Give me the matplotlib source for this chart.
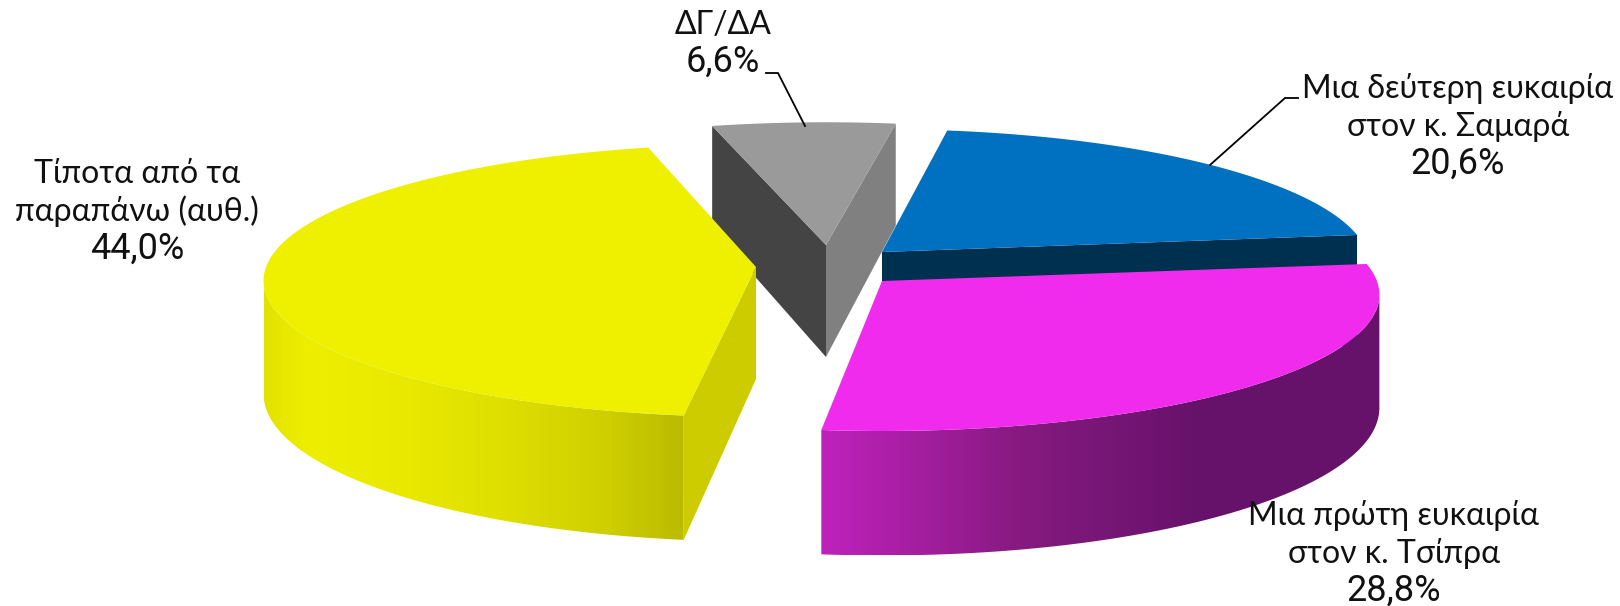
import numpy as np
import matplotlib
matplotlib.use("Agg")
import matplotlib.pyplot as plt
from matplotlib.colors import LinearSegmentedColormap
from matplotlib.patches import Polygon

# data
categories = ["Μια δεύτερη ευκαιρία\nστον κ. Σαμαρά", "Μια πρώτη ευκαιρία\nστον κ. Τσίπρα",
              "Τίποτα από τα\nπαραπάνω (αυθ.)", "ΔΓ/ΔΑ"]
shares = [20.6, 28.8, 44.0, 6.6]

# styles
top_colors = ["#0070C0", "#F02BEE", "#EFEF00", "#9A9A9A"]
start_wall = [None, None, "#CCCC00", "#444444"]
end_wall = ["#003050", None, None, "#808080"]
wall_stops = [None,
              [(0, "#BF22BC"), (0.36, "#861A80"), (0.68, "#66126A"), (1, "#66126A")],
              [(0, "#E2E200"), (0.1, "#EEEE00"), (0.3, "#EAEA00"), (0.55, "#E0E000"),
               (0.8, "#D0D000"), (1, "#BBBB00")],
              None]
centers = [(882, 252), (882, 281), (756, 267), (826, 245)]
angle_nudge = [0, 0, 1.3, 0.5]  # exploded slices sit a bit turned in the perspective
radius_scale = [0.99, 1.01, 1, 1]
label_x = [1458, 1394, 137, 723]
label_y = [98, 525, 183, 34]  # baseline of first line
line_step = 38

start_angle = 8.5
RX, RY, K, DEPTH = 490.0, 135.0, 0.1, 112.0


def project(center, theta, scale=1):
    # point on the rim, simple perspective: closer to viewer means bigger
    t = np.radians(theta)
    u, v = np.sin(t), -np.cos(t)
    s = 1 / (1 - K * v)
    return center[0] + RX * scale * u * s, center[1] + RY * v * s, DEPTH * s


def edge_wall(center, a, scale):
    # wall standing on the straight edge from apex to rim
    x, y, d = project(center, a, scale)
    return [(center[0], center[1]), (x, y), (x, y + d), (center[0], center[1] + DEPTH)]


def draw_slice(ax, center, a, b, i, z):
    thetas = np.linspace(a, b, 200)
    x, y, d = project(center, thetas, radius_scale[i])

    # outer wall, only the part turned to the viewer (widest point is at cos = -K)
    front = np.cos(np.radians(thetas)) < -K
    if wall_stops[i] is not None and front.sum() > 1:
        fx, fy, fd = x[front], y[front], d[front]
        pts = np.vstack([np.c_[fx, fy], np.c_[fx, fy + fd][::-1]])
        cmap = LinearSegmentedColormap.from_list("wall", wall_stops[i], N=256)
        im = ax.imshow(np.linspace(0, 1, 256).reshape(1, -1), cmap=cmap, aspect="auto",
                       extent=[fx.min(), fx.max(), pts[:, 1].max(), pts[:, 1].min()], zorder=z)
        poly = Polygon(pts, closed=True, transform=ax.transData, fc="none", ec="none")
        ax.add_patch(poly)
        im.set_clip_path(poly)

    if start_wall[i]:
        ax.add_patch(Polygon(edge_wall(center, a, radius_scale[i]), fc=start_wall[i], ec="none", zorder=z))
    if end_wall[i]:
        ax.add_patch(Polygon(edge_wall(center, b, radius_scale[i]), fc=end_wall[i], ec="none", zorder=z))

    top = np.vstack([[center], np.c_[x, y]])
    ax.add_patch(Polygon(top, fc=top_colors[i], ec="none", zorder=z + 0.5))


fig = plt.figure(figsize=(16.2, 6.06), dpi=100)
ax = fig.add_axes([0, 0, 1, 1])

spans = np.array(shares) / sum(shares) * 360
starts = start_angle + np.r_[0, np.cumsum(spans)[:-1]] + np.array(angle_nudge)

# back to front: gray, blue, yellow, magenta
for z, i in enumerate([3, 0, 2, 1]):
    draw_slice(ax, centers[i], starts[i], starts[i] + spans[i], i, z + 1)

ax.set_xlim(0, 1620)
ax.set_ylim(606, 0)
ax.axis("off")

for cat, val, x, y in zip(categories, shares, label_x, label_y):
    lines = cat.split("\n")
    for n, line in enumerate(lines):
        ax.text(x, y + n * line_step, line, ha="center", va="baseline", fontsize=23,
                family=["Lato", "Roboto"], color="#111111", zorder=10)
    ax.text(x, y + len(lines) * line_step, f"{val:.1f}%".replace(".", ","), ha="center",
            va="baseline", fontsize=26, family="Roboto", color="#111111", zorder=10)

# leader lines
ax.plot([766, 778, 805], [73, 73, 126], color="black", lw=1.3, zorder=9)
ax.plot([1298, 1285, 1210], [98, 98, 165], color="black", lw=1.3, zorder=9)

fig.savefig("out.png", dpi=100)
